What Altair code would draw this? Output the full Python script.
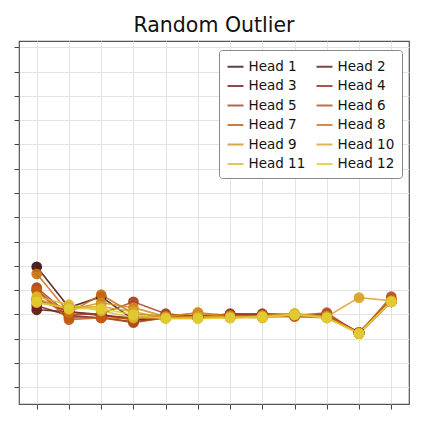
import altair as alt
import pandas as pd

heads = [f"Head {i}" for i in range(1, 13)]
steps = list(range(12))

h1 = [1.96, 0.28, 0.73, -0.22, -0.14, -0.14, -0.09, -0.05, -0.01, -0.09, -0.75, 0.56]
h2 = [0.19, 0.11, -0.01, -0.22, -0.09, -0.05, -0.05, -0.05, -0.01, -0.05, -0.75, 0.52]
h3 = [0.36, -0.05, -0.14, -0.30, -0.14, -0.14, -0.01, -0.01, -0.05, -0.09, -0.79, 0.52]
h4 = [0.60, 0.11, -0.05, -0.14, -0.05, -0.14, 0.03, -0.01, -0.05, -0.01, -0.75, 0.56]
h5 = [1.10, -0.01, 0.03, 0.52, 0.03, -0.09, -0.01, 0.03, -0.01, -0.05, -0.75, 0.60]
h6 = [1.02, -0.14, -0.14, -0.34, -0.14, -0.14, -0.05, -0.05, -0.05, 0.07, -0.79, 0.73]
h7 = [0.98, -0.22, -0.14, -0.18, -0.14, -0.09, -0.14, -0.09, -0.09, -0.14, -0.75, 0.60]
h8 = [1.67, 0.07, 0.81, 0.03, -0.09, 0.07, -0.05, -0.09, -0.05, -0.05, -0.79, 0.52]
h9 = [0.65, 0.19, 0.48, 0.28, -0.09, 0.07, -0.14, -0.05, 0.03, -0.14, -0.75, 0.56]
h10 = [0.48, 0.28, 0.32, 0.11, -0.14, -0.09, -0.09, -0.14, 0.03, -0.09, 0.69, 0.56]
h11 = [0.73, 0.40, 0.15, -0.14, -0.14, -0.14, -0.14, -0.14, -0.01, -0.14, -0.79, 0.52]
h12 = [0.52, 0.23, 0.23, -0.01, -0.18, -0.18, -0.14, -0.09, -0.01, -0.14, -0.79, 0.52]

series = [h1, h2, h3, h4, h5, h6, h7, h8, h9, h10, h11, h12]

colors = ["#3b0f0f", "#5a1616", "#711e1e", "#8a2c1c", "#a53f22", "#b24d1e",
          "#c25c12", "#ca7014", "#d28c1c", "#d9a224", "#dcb828", "#e0cc32"]

y_ticks = list(range(-3, 12))
x_ticks = steps

# legend is filled column by column: order odd heads first, then even heads
legend_order = heads[0::2] + heads[1::2]
legend_colors = colors[0::2] + colors[1::2]

rows = []
for i, (name, vals) in enumerate(zip(heads, series)):
    for s, v in zip(steps, vals):
        rows.append({"head": name, "step": s, "value": v, "idx": i})
df = pd.DataFrame(rows)

xenc = alt.X("step:Q",
             scale=alt.Scale(domain=[-0.55, 11.55], nice=False, zero=False),
             axis=alt.Axis(values=x_ticks, labels=False, title=None, domain=False,
                           tickColor="#444", tickSize=5, grid=True,
                           gridColor="#e3e3e3", gridWidth=1))
yenc = alt.Y("value:Q",
             scale=alt.Scale(domain=[-3.69, 11.26], nice=False, zero=False),
             axis=alt.Axis(values=y_ticks, labels=False, title=None, domain=False,
                           tickColor="#444", tickSize=5, grid=True,
                           gridColor="#e3e3e3", gridWidth=1))

lines = alt.Chart(df).mark_line(strokeWidth=1.6, opacity=0.85).encode(
    x=xenc, y=yenc,
    stroke=alt.Stroke("head:N",
                      scale=alt.Scale(domain=legend_order, range=legend_colors),
                      legend=alt.Legend(
                          title=None, orient="none", legendX=200, legendY=9,
                          columns=2, columnPadding=7, rowPadding=3.5,
                          symbolType="stroke", symbolSize=256, symbolStrokeWidth=2,
                          symbolOpacity=0.8,
                          labelFont="DejaVu Sans", labelFontSize=13.5, labelColor="#111",
                          labelOffset=4, padding=7.5, fillColor="white",
                          strokeColor="#888", cornerRadius=3)),
    detail="idx:Q",
)

points = alt.Chart(df).mark_point(filled=True, size=115, opacity=0.92).encode(
    x=xenc, y=yenc,
    fill=alt.Fill("head:N", scale=alt.Scale(domain=legend_order, range=legend_colors),
                  legend=None),
)

chart = alt.layer(lines, points).properties(
    width=390, height=363,
    title=alt.Title("Random Outlier", font="DejaVu Sans", fontSize=20.5,
                    fontWeight="normal", color="#111", anchor="middle",
                    baseline="alphabetic", offset=8.7, frame="group", dy=20),
    padding={"left": 11, "top": 33, "right": 6, "bottom": 11},
    autosize=alt.AutoSizeParams(type="none"),
).configure_view(stroke="#555", strokeWidth=1.2)

chart.save("out.html", embed_options={"renderer": "svg", "actions": False})
